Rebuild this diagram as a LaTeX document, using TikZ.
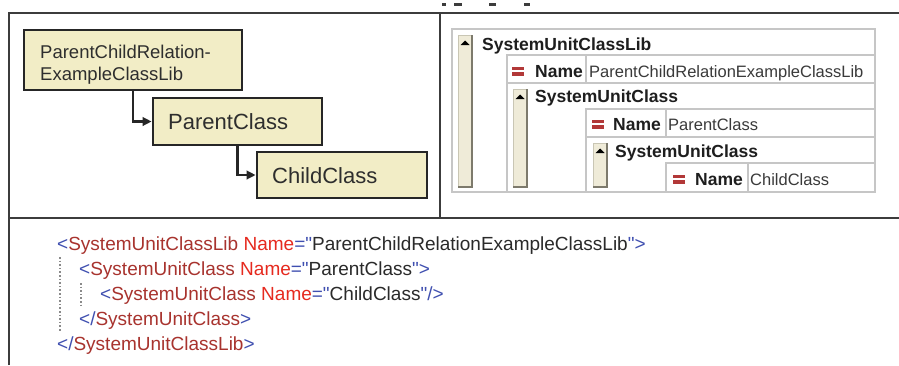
\documentclass[tikz,border=0pt]{standalone}
\usepackage{fontspec}
\setmainfont{Liberation Sans}[Ligatures=TeXOff]
\usetikzlibrary{arrows.meta}

\definecolor{framegray}{HTML}{3C3C3C}
\definecolor{boxfill}{HTML}{F2EDC6}
\definecolor{boxedge}{HTML}{262626}
\definecolor{boxtextc}{HTML}{2E2E2E}
\definecolor{gridgray}{HTML}{C6C6C6}
\definecolor{barfill}{HTML}{EFEBD8}
\definecolor{barlight}{HTML}{C9C6B4}
\definecolor{bardark}{HTML}{7D7A6C}
\definecolor{iconred}{HTML}{B23838}
\definecolor{treetext}{HTML}{1E1E1E}
\definecolor{treeval}{HTML}{3A3A3A}
\definecolor{xpunct}{HTML}{3F4FB0}
\definecolor{xtag}{HTML}{A8332E}
\definecolor{xattr}{HTML}{E62A1F}
\definecolor{xval}{HTML}{2A2A2A}
\definecolor{guide}{HTML}{8A8A8A}

% XML syntax colouring
\newcommand{\xp}[1]{\textcolor{xpunct}{#1}}
\newcommand{\xt}[1]{\textcolor{xtag}{#1}}
\newcommand{\xa}[1]{\textcolor{xattr}{#1}}
\newcommand{\xv}[1]{\textcolor{xval}{#1}}

\tikzset{
  frame/.style={draw=framegray, line width=2.3pt},
  classbox/.style={draw=boxedge, fill=boxfill, line width=2.8pt, rectangle, inner sep=0pt},
  boxtext/.style={inner sep=0pt, anchor=base west, text=boxtextc},
  conn/.style={draw=boxedge, line width=2.2pt, -{Triangle[length=9pt,width=8.5pt]}},
  grid/.style={draw=gridgray, line width=1.1pt},
  headtext/.style={inner sep=0pt, anchor=base west, text=treetext,
    font=\fontsize{17.5}{20}\selectfont\bfseries},
  valtext/.style={inner sep=0pt, anchor=base west, text=treeval,
    font=\fontsize{16.5}{19}\selectfont},
  xml/.style={inner sep=0pt, anchor=base west, font=\fontsize{19}{22}\selectfont},
  guideline/.style={draw=guide, line width=1.6pt, dotted},
  fragment/.style={draw=framegray, line width=2.2pt},
}

% expander bar with its collapse triangle
\newcommand{\expander}[3]{% x, top, bottom
  \fill[barfill] (#1,#2) rectangle ++(14,#3-#2);
  \draw[barlight, line width=0.9pt] (#1,#3) -- (#1,#2) -- ++(14,0);
  \draw[bardark, line width=1.6pt] (#1+14,#2) -- (#1+14,#3) -- (#1,#3);
  \fill[black] (#1+2.5,#2+10) -- (#1+11.5,#2+10) -- (#1+7,#2+5.5) -- cycle;
}
% red attribute marker
\newcommand{\attrmark}[2]{% x, centre y
  \fill[iconred] (#1,#2-4.5) rectangle ++(12,3.5);
  \fill[iconred] (#1,#2+1) rectangle ++(12,3.5);
}

\begin{document}
\begin{tikzpicture}[x=1pt, y=-1pt]
\useasboundingbox (0,0) rectangle (899,365);
\fill[white] (0,0) rectangle (899,365);

% cut-off text fragments along the top edge
\draw[fragment] (442,4.5) -- (446,4.5);
\draw[fragment] (454,4.5) -- (462,4.5);
\draw[fragment] (489,4.5) -- (496,4.5);
\draw[fragment] (524,4.5) -- (530,4.5);

% panel frame
\draw[frame] (9,365) -- (9,13) -- (899,13);
\draw[frame] (440,13) -- (440,218);
\draw[frame] (9,218) -- (899,218);

% ---------- class hierarchy ----------
\node[classbox, minimum width=218pt, minimum height=60pt] (lib) at (133,60) {};
\node[classbox, minimum width=169pt, minimum height=47pt] (pc) at (237.5,121.5) {};
\node[classbox, minimum width=170pt, minimum height=46pt] (cc) at (342,175) {};

\node[boxtext, font=\fontsize{18.5}{22}\selectfont] (libA) at (40,58) {ParentChildRelation-};
\node[boxtext, font=\fontsize{18.5}{22}\selectfont] (libB) at (40,80) {ExampleClassLib};
\node[boxtext, font=\fontsize{22}{26}\selectfont] (pcT) at (168,129) {ParentClass};
\node[boxtext, font=\fontsize{22}{26}\selectfont] (ccT) at (272,183) {ChildClass};

\draw[conn] (lib.south) |- (pc.west);
\draw[conn] (pc.south) |- (cc.west);

% ---------- attribute tree ----------
\draw[grid] (452,29) rectangle (875,192);
\draw[grid] (507,55) -- (875,55);
\draw[grid] (507,55) -- (507,192);
\draw[grid] (507,55) rectangle (586,83);
\draw[grid] (586,55) rectangle (875,83);
\draw[grid] (507,83) rectangle (875,192);
\draw[grid] (586,109) -- (875,109);
\draw[grid] (586,109) -- (586,192);
\draw[grid] (586,109) rectangle (666,137);
\draw[grid] (666,109) rectangle (875,137);
\draw[grid] (586,137) rectangle (875,192);
\draw[grid] (666,163) -- (875,163);
\draw[grid] (666,163) -- (666,192);
\draw[grid] (666,163) rectangle (748,192);
\draw[grid] (748,163) rectangle (875,192);

\expander{458}{35}{187}
\expander{513}{89}{187}
\expander{593}{143}{187}

\node[headtext] (h1) at (482,50) {SystemUnitClassLib};
\attrmark{512}{71}
\node[headtext] (n1) at (535,77) {Name};
\node[valtext] (v1) at (589,77) {ParentChildRelationExampleClassLib};

\node[headtext] (h2) at (535,102) {SystemUnitClass};
\attrmark{592}{124}
\node[headtext] (n2) at (613,130) {Name};
\node[valtext] (v2) at (668,130) {ParentClass};

\node[headtext] (h3) at (615,157) {SystemUnitClass};
\attrmark{673}{179}
\node[headtext] (n3) at (695,185) {Name};
\node[valtext] (v3) at (750,185) {ChildClass};

% ---------- XML listing ----------
\draw[guideline] (60,257) -- (60,332);
\draw[guideline] (81,283) -- (81,305);

\node[xml] (x1) at (57,250)
  {\xp{<}\xt{SystemUnitClassLib} \xa{Name}\xp{="}\xv{ParentChildRelationExampleClassLib}\xp{">}};
\node[xml] (x2) at (79,275)
  {\xp{<}\xt{SystemUnitClass} \xa{Name}\xp{="}\xv{ParentClass}\xp{">}};
\node[xml] (x3) at (100,300)
  {\xp{<}\xt{SystemUnitClass} \xa{Name}\xp{="}\xv{ChildClass}\xp{"/>}};
\node[xml] (x4) at (79,325)
  {\xp{</}\xt{SystemUnitClass}\xp{>}};
\node[xml] (x5) at (57,350)
  {\xp{</}\xt{SystemUnitClassLib}\xp{>}};
\end{tikzpicture}
\end{document}
